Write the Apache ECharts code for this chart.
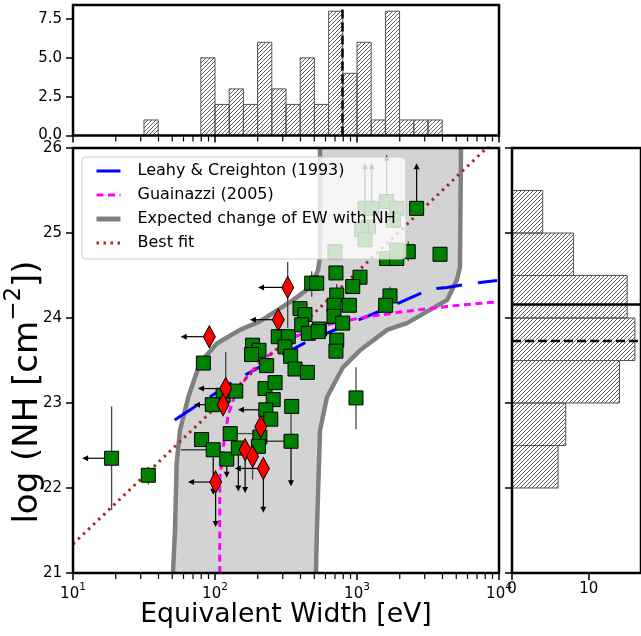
<!DOCTYPE html>
<html><head><meta charset="utf-8">
<script src="https://cdn.jsdelivr.net/npm/echarts@6/dist/echarts.min.js"></script>
<style>html,body{margin:0;padding:0;background:#fff}#c{width:641px;height:636px}</style>
</head><body><div id="c"></div>
<script>
const FONT = 'DejaVu Sans';
// ---------- tick values ----------
const ewMajorTicks = [10, 100, 1000, 10000];
const ewMinorTicks = [20,30,40,50,60,70,80,90,200,300,400,500,600,700,800,900,2000,3000,4000,5000,6000,7000,8000,9000];
const nhTicks = [21, 22, 23, 24, 25, 26];
const histCountTicks = [0, 2.5, 5, 7.5];
const nhHistCountTicks = [0, 10];

// ---------- top histogram (EW) ----------
const ewBinLo = [31.62, 79.43, 100, 125.9, 158.5, 199.5, 251.2, 316.2, 398.1, 501.2, 631.0, 794.3, 1000, 1259, 1585, 1995, 2512, 3162];
const ewBinHi = [39.81, 100, 125.9, 158.5, 199.5, 251.2, 316.2, 398.1, 501.2, 631.0, 794.3, 1000, 1259, 1585, 1995, 2512, 3162, 3981];
const ewBinCount = [1, 5, 2, 3, 2, 6, 3, 2, 5, 2, 8, 4, 6, 1, 8, 1, 1, 1];
const ewMedian = 790;

// ---------- right histogram (NH) ----------
const nhBinLo = [22.0, 22.5, 23.0, 23.5, 24.0, 24.5, 25.0];
const nhBinHi = [22.5, 23.0, 23.5, 24.0, 24.5, 25.0, 25.5];
const nhBinCount = [6, 7, 14, 16, 15, 8, 4];
const nhLineSolid = 24.16;
const nhLineDashed = 23.73;

// ---------- model curves ----------
const leahyEW = [52, 134, 232, 467, 1710, 3270, 4300, 6560, 9700];
const leahyNH = [22.80, 23.25, 23.47, 23.74, 24.13, 24.34, 24.36, 24.41, 24.44];
const guainazziEW = [108, 108, 116, 124, 138, 168, 207, 265, 378, 645, 1050, 2010, 4520, 9840];
const guainazziNH = [21.0, 22.09, 22.56, 22.86, 23.09, 23.31, 23.48, 23.62, 23.79, 23.93, 24.00, 24.07, 24.14, 24.19];
const bandLeftEW = [50.6, 52.3, 53.7, 56.7, 64.9, 78.3, 103, 150, 207, 354, 467, 531, 549, 549];
const bandLeftNH = [21.0, 21.51, 22.29, 22.68, 23.07, 23.47, 23.70, 23.86, 23.96, 24.21, 24.36, 24.56, 24.72, 26.0];
const bandRightEW = [514, 522, 549, 615, 796, 1050, 1630, 2250, 4300, 5060, 5310, 5400];
const bandRightNH = [21.0, 21.51, 22.68, 23.07, 23.42, 23.62, 23.86, 23.94, 24.21, 24.45, 24.60, 26.0];
const bestFitEW = [10, 10000];
const bestFitNH = [21.34, 26.14];

// ---------- sources ----------
const greenEW = [18.7, 33.9, 984, 82.8, 114, 95.7, 140, 225, 265, 257, 228, 247, 347, 343, 128, 80.5, 97.2, 121, 146, 207, 202, 184, 204, 181, 231, 279, 328, 311, 341, 366, 447, 397, 430, 408, 480, 520, 711, 1050, 933, 720, 1707, 883, 689, 1592, 689, 793, 543, 720, 711, 454, 533, 2630, 2296, 3843, 1618, 1905, 700, 1138, 1269, 1618, 1905, 1803, 1202, 1079, 1138, 1905];
const greenNH = [22.35, 22.15, 23.06, 23.47, 23.09, 22.98, 23.14, 23.17, 23.24, 23.04, 22.92, 22.81, 22.96, 22.55, 22.64, 22.57, 22.45, 22.34, 22.47, 22.60, 22.49, 23.68, 23.62, 23.57, 23.44, 23.78, 23.78, 23.66, 23.55, 23.40, 23.36, 24.11, 24.04, 23.92, 24.41, 24.41, 24.53, 24.48, 24.37, 24.27, 24.26, 24.15, 24.15, 24.15, 24.02, 23.94, 23.87, 23.74, 23.61, 23.82, 23.84, 25.29, 24.78, 24.75, 24.70, 24.70, 24.78, 25.29, 25.29, 25.37, 25.29, 25.15, 25.07, 25.04, 24.92, 24.80];
const redEW = [325, 279, 91.2, 119, 114, 210, 163, 184, 219, 101];
const redNH = [24.36, 23.98, 23.78, 23.17, 22.98, 22.72, 22.45, 22.37, 22.23, 22.07];

// error bars: [EW, NH low, NH high] and [EW low, NH, EW high]
const errBarsY = [[18.7, 21.74, 22.96], [33.9, 22.04, 22.25], [984, 22.69, 23.42], [3843, 24.67, 24.83], [1707, 24.15, 24.37], [2296, 24.67, 24.90], [343, 22.55, 22.98], [325, 23.88, 24.66], [119, 23.0, 23.6], [184, 22.1, 22.45], [210, 22.55, 22.9], [480, 24.25, 24.55], [720, 24.1, 24.4]];
const errBarsX = [[57.7, 22.45, 97.2], [207, 22.55, 343], [128, 22.64, 190], [146, 22.47, 190]];
// limits: [EW, NH, end]
const arrowsLeft = [[18.7, 22.35, 11.6], [95.7, 22.98, 71.1], [228, 22.92, 145], [325, 24.36, 201], [279, 23.98, 176], [91.2, 23.78, 57.3], [119, 23.17, 75.9], [219, 22.23, 138], [101, 22.07, 64.6]];
const arrowsDown = [[343, 22.55, 22.02], [97.2, 22.45, 21.92], [121, 22.34, 22.12], [146, 22.47, 21.96], [163, 22.45, 21.94], [219, 22.23, 21.71], [101, 22.07, 21.54]];
const arrowsUp = [[2630, 25.29, 25.82], [1138, 25.29, 25.82], [1269, 25.29, 25.82], [1618, 25.37, 25.92]];

// ---------- helpers ----------
const zip = (a, b) => a.map((v, i) => [v, b[i]]);
function makeHatch() {
  const s = 4, c = document.createElement('canvas');
  c.width = s; c.height = s;
  const g = c.getContext('2d');
  g.strokeStyle = '#333'; g.lineWidth = 0.8;
  g.beginPath();
  g.moveTo(-1, s + 1); g.lineTo(s + 1, -1);
  g.moveTo(-1, 1); g.lineTo(1, -1);
  g.moveTo(s - 1, s + 1); g.lineTo(s + 1, s - 1);
  g.stroke();
  return c;
}
const hatch = { image: makeHatch(), repeat: 'repeat' };

const tickLine = { color: '#000', width: 1.5 };
const labelStyle = { fontFamily: FONT, fontSize: 15, color: '#000' };

function minorTickSeries(xi, yi, y0) {
  return {
    type: 'custom', xAxisIndex: xi, yAxisIndex: yi, clip: false, silent: true, z: 12,
    data: ewMinorTicks.map(v => [v, y0]),
    renderItem: (p, api) => {
      const c = api.coord([api.value(0), api.value(1)]);
      return { type: 'line', shape: { x1: c[0], y1: c[1], x2: c[0], y2: c[1] + 6 }, style: { stroke: '#000', lineWidth: 1.2 } };
    }
  };
}

const chart = echarts.init(document.getElementById('c'), null, { renderer: 'canvas' });
const option = {
  animation: false,
  backgroundColor: '#fff',
  grid: [
    { left: 73, top: 148, width: 426, height: 425, show: true, borderColor: '#000', borderWidth: 2.5, backgroundColor: 'rgba(0,0,0,0)', z: 10 },
    { left: 73, top: 5, width: 426, height: 130.5, show: true, borderColor: '#000', borderWidth: 2.5, backgroundColor: 'rgba(0,0,0,0)', z: 10 },
    { left: 512, top: 148, width: 130.5, height: 425, show: true, borderColor: '#000', borderWidth: 2.5, backgroundColor: 'rgba(0,0,0,0)', z: 10 }
  ],
  xAxis: [
    { gridIndex: 0, type: 'log', logBase: 10, min: 10, max: 10000,
      axisLine: { show: false }, splitLine: { show: false },
      axisTick: { length: 7, lineStyle: tickLine },
      axisLabel: { margin: 9, showMinLabel: true, showMaxLabel: true,
        formatter: v => '{b|10}{s|' + Math.round(Math.log10(v)) + '}',
        rich: { b: { fontFamily: FONT, fontSize: 15, color: '#000', lineHeight: 20, verticalAlign: 'bottom' },
                s: { fontFamily: FONT, fontSize: 10.5, color: '#000', lineHeight: 20, verticalAlign: 'top' } } } },
    { gridIndex: 1, type: 'log', logBase: 10, min: 10, max: 10000,
      axisLine: { show: false }, splitLine: { show: false },
      axisTick: { length: 7, lineStyle: tickLine }, axisLabel: { show: false } },
    { gridIndex: 2, type: 'value', min: 0, max: 16.8, interval: 10,
      axisLine: { show: false }, splitLine: { show: false },
      axisTick: { length: 7, lineStyle: tickLine, customValues: nhHistCountTicks },
      axisLabel: Object.assign({ margin: 9, customValues: nhHistCountTicks }, labelStyle) }
  ],
  yAxis: [
    { gridIndex: 0, type: 'value', min: 21, max: 26, interval: 1,
      axisLine: { show: false }, splitLine: { show: false },
      axisTick: { length: 7, lineStyle: tickLine },
      axisLabel: Object.assign({ margin: 11 }, labelStyle) },
    { gridIndex: 1, type: 'value', min: 0, max: 8.4, interval: 2.5,
      axisLine: { show: false }, splitLine: { show: false },
      axisTick: { length: 7, lineStyle: tickLine, customValues: histCountTicks },
      axisLabel: Object.assign({ margin: 11, customValues: histCountTicks, formatter: v => v.toFixed(1) }, labelStyle) },
    { gridIndex: 2, type: 'value', min: 21, max: 26, interval: 1,
      axisLine: { show: false }, splitLine: { show: false },
      axisTick: { length: 7, lineStyle: tickLine }, axisLabel: { show: false } }
  ],
  legend: {
    data: [
      { name: 'Leahy & Creighton (1993)', lineStyle: { width: 3 } },
      { name: 'Guainazzi (2005)', lineStyle: { width: 3 } },
      { name: 'Expected change of EW with NH', lineStyle: { width: 5 } },
      { name: 'Best fit', lineStyle: { width: 3 } }
    ],
    orient: 'vertical', left: 82, top: 157, padding: [6, 10, 8, 12], itemGap: 8,
    itemWidth: 24, itemHeight: 14, selectedMode: false,
    itemStyle: { opacity: 0 },
    backgroundColor: 'rgba(255,255,255,0.8)', borderColor: '#cccccc', borderWidth: 1, borderRadius: 4,
    textStyle: { fontFamily: FONT, fontSize: 16, color: '#000', padding: [0, 0, 0, 12] },
    z: 20
  },
  graphic: [
    { type: 'text', x: 286, y: 615, z: 20,
      style: { text: 'Equivalent Width [eV]', fontFamily: FONT, fontSize: 26.7, fill: '#000', align: 'center', verticalAlign: 'middle' } },
    { type: 'text', x: 24, y: 392, rotation: Math.PI / 2, z: 20,
      style: { text: '{n|log (NH [cm}{s|−2}{n|])}', align: 'center', verticalAlign: 'middle',
        rich: { n: { fontFamily: FONT, fontSize: 34, fill: '#000', lineHeight: 42, verticalAlign: 'bottom' },
                s: { fontFamily: FONT, fontSize: 23, fill: '#000', lineHeight: 42, verticalAlign: 'top' } } } }
  ],
  series: [
    // shaded band
    { type: 'custom', xAxisIndex: 0, yAxisIndex: 0, z: 1, silent: true, clip: true,
      data: [[bandLeftEW[0], bandLeftNH[0]]],
      renderItem: (p, api) => {
        const pts = [];
        bandLeftEW.forEach((e, i) => pts.push(api.coord([e, bandLeftNH[i]])));
        for (let i = bandRightEW.length - 1; i >= 0; i--) pts.push(api.coord([bandRightEW[i], bandRightNH[i]]));
        return { type: 'polygon', shape: { points: pts }, style: { fill: '#d3d3d3' } };
      } },
    { name: 'Expected change of EW with NH', type: 'line', xAxisIndex: 0, yAxisIndex: 0, z: 2,
      data: zip(bandLeftEW, bandLeftNH), symbol: 'none', lineStyle: { color: '#808080', width: 4.5 }, itemStyle: { color: '#808080' } },
    { name: 'Expected change of EW with NH', type: 'line', xAxisIndex: 0, yAxisIndex: 0, z: 2,
      data: zip(bandRightEW, bandRightNH), symbol: 'none', lineStyle: { color: '#808080', width: 4.5 }, itemStyle: { color: '#808080' } },
    { name: 'Leahy & Creighton (1993)', type: 'line', xAxisIndex: 0, yAxisIndex: 0, z: 3,
      data: zip(leahyEW, leahyNH), symbol: 'none', lineStyle: { color: '#0000ff', width: 3, type: [26, 16] }, itemStyle: { color: '#0000ff' } },
    { name: 'Guainazzi (2005)', type: 'line', xAxisIndex: 0, yAxisIndex: 0, z: 3,
      data: zip(guainazziEW, guainazziNH), symbol: 'none', lineStyle: { color: '#ff00ff', width: 3, type: [7, 4.5] }, itemStyle: { color: '#ff00ff' } },
    { name: 'Best fit', type: 'line', xAxisIndex: 0, yAxisIndex: 0, z: 3,
      data: zip(bestFitEW, bestFitNH), symbol: 'none', lineStyle: { color: '#a52a2a', width: 3, type: [2.5, 4.5] }, itemStyle: { color: '#a52a2a' } },
    // error bars
    { type: 'custom', xAxisIndex: 0, yAxisIndex: 0, z: 4, silent: true, data: errBarsY,
      renderItem: (p, api) => {
        const a = api.coord([api.value(0), api.value(1)]), b = api.coord([api.value(0), api.value(2)]);
        return { type: 'line', shape: { x1: a[0], y1: a[1], x2: b[0], y2: b[1] }, style: { stroke: '#444', lineWidth: 1.3 } };
      } },
    { type: 'custom', xAxisIndex: 0, yAxisIndex: 0, z: 4, silent: true, data: errBarsX,
      renderItem: (p, api) => {
        const a = api.coord([api.value(0), api.value(1)]), b = api.coord([api.value(2), api.value(1)]);
        return { type: 'line', shape: { x1: a[0], y1: a[1], x2: b[0], y2: b[1] }, style: { stroke: '#444', lineWidth: 1.3 } };
      } },
    { type: 'custom', xAxisIndex: 0, yAxisIndex: 0, z: 4, silent: true, data: arrowsLeft,
      renderItem: (p, api) => {
        const a = api.coord([api.value(0), api.value(1)]), b = api.coord([api.value(2), api.value(1)]);
        return { type: 'group', children: [
          { type: 'line', shape: { x1: a[0], y1: a[1], x2: b[0] + 4, y2: b[1] }, style: { stroke: '#000', lineWidth: 1.2 } },
          { type: 'polygon', shape: { points: [[b[0], b[1]], [b[0] + 6, b[1] - 3], [b[0] + 6, b[1] + 3]] }, style: { fill: '#000' } } ] };
      } },
    { type: 'custom', xAxisIndex: 0, yAxisIndex: 0, z: 4, silent: true, data: arrowsDown,
      renderItem: (p, api) => {
        const a = api.coord([api.value(0), api.value(1)]), b = api.coord([api.value(0), api.value(2)]);
        return { type: 'group', children: [
          { type: 'line', shape: { x1: a[0], y1: a[1], x2: b[0], y2: b[1] - 4 }, style: { stroke: '#000', lineWidth: 1.2 } },
          { type: 'polygon', shape: { points: [[b[0], b[1]], [b[0] - 3, b[1] - 6], [b[0] + 3, b[1] - 6]] }, style: { fill: '#000' } } ] };
      } },
    { type: 'custom', xAxisIndex: 0, yAxisIndex: 0, z: 4, silent: true, data: arrowsUp,
      renderItem: (p, api) => {
        const a = api.coord([api.value(0), api.value(1)]), b = api.coord([api.value(0), api.value(2)]);
        return { type: 'group', children: [
          { type: 'line', shape: { x1: a[0], y1: a[1], x2: b[0], y2: b[1] + 4 }, style: { stroke: '#000', lineWidth: 1.2 } },
          { type: 'polygon', shape: { points: [[b[0], b[1]], [b[0] - 3, b[1] + 6], [b[0] + 3, b[1] + 6]] }, style: { fill: '#000' } } ] };
      } },
    // markers
    { type: 'scatter', xAxisIndex: 0, yAxisIndex: 0, z: 5, data: zip(greenEW, greenNH),
      symbol: 'rect', symbolSize: 14, itemStyle: { color: '#008000', borderColor: '#000', borderWidth: 1, opacity: 1 } },
    { type: 'scatter', xAxisIndex: 0, yAxisIndex: 0, z: 6, data: zip(redEW, redNH),
      symbol: 'diamond', symbolSize: [12, 22], itemStyle: { color: '#ff0000', borderColor: '#000', borderWidth: 1, opacity: 1 } },
    minorTickSeries(0, 0, 21),
    // top histogram
    { type: 'custom', xAxisIndex: 1, yAxisIndex: 1, z: 2, silent: true,
      data: ewBinLo.map((v, i) => [v, ewBinCount[i], ewBinHi[i]]),
      renderItem: (p, api) => {
        const a = api.coord([api.value(0), 0]), b = api.coord([api.value(2), api.value(1)]);
        return { type: 'rect', shape: { x: a[0], y: b[1], width: b[0] - a[0], height: a[1] - b[1] },
          style: { fill: hatch, stroke: '#555', lineWidth: 1 } };
      } },
    { type: 'line', xAxisIndex: 1, yAxisIndex: 1, z: 4, data: [[ewMedian, 0], [ewMedian, 8.4]], symbol: 'none',
      lineStyle: { color: '#000', width: 2.5, type: [9, 4] } },
    minorTickSeries(1, 1, 0),
    // right histogram
    { type: 'custom', xAxisIndex: 2, yAxisIndex: 2, z: 2, silent: true,
      data: nhBinLo.map((v, i) => [nhBinCount[i], v, nhBinHi[i]]),
      renderItem: (p, api) => {
        const a = api.coord([0, api.value(1)]), b = api.coord([api.value(0), api.value(2)]);
        return { type: 'rect', shape: { x: a[0], y: b[1], width: b[0] - a[0], height: a[1] - b[1] },
          style: { fill: hatch, stroke: '#555', lineWidth: 1 } };
      } },
    { type: 'line', xAxisIndex: 2, yAxisIndex: 2, z: 4, data: [[0, nhLineSolid], [16.8, nhLineSolid]], symbol: 'none',
      lineStyle: { color: '#000', width: 2.5 } },
    { type: 'line', xAxisIndex: 2, yAxisIndex: 2, z: 4, data: [[0, nhLineDashed], [16.8, nhLineDashed]], symbol: 'none',
      lineStyle: { color: '#000', width: 2.5, type: [9, 4] } }
  ]
};
chart.setOption(option);
</script></body></html>
